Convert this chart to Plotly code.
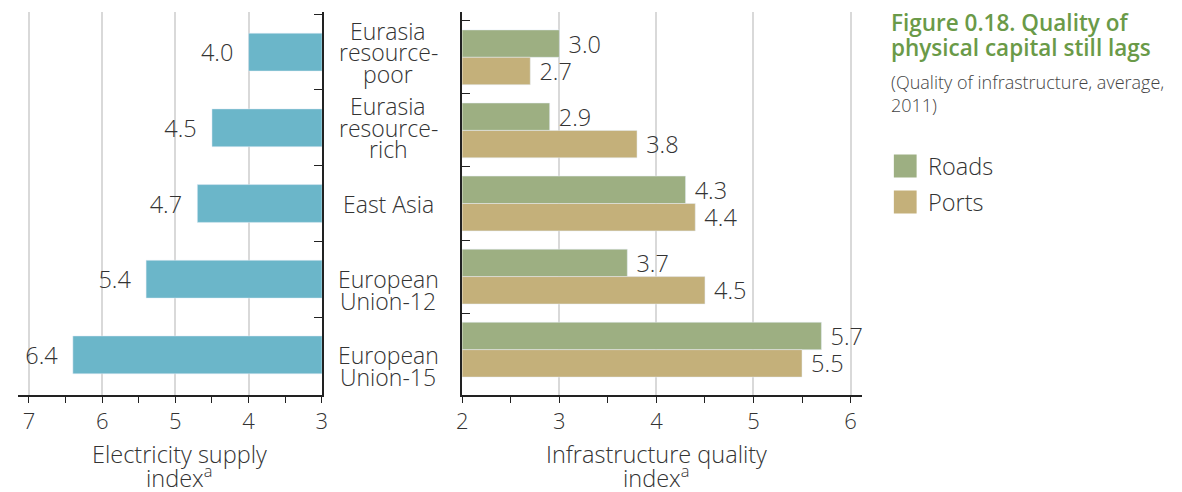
import plotly.graph_objects as go

# data
regions = ["Eurasia resource-poor", "Eurasia resource-rich", "East Asia",
           "European Union-12", "European Union-15"]
region_lines = [["Eurasia", "resource-", "poor"], ["Eurasia", "resource-", "rich"], ["East Asia"],
                ["European", "Union-12"], ["European", "Union-15"]]
electricity = [4.0, 4.5, 4.7, 5.4, 6.4]
roads = [3.0, 2.9, 4.3, 3.7, 5.7]
ports = [2.7, 3.8, 4.4, 4.5, 5.5]

# the page body has an 8px margin, so the figure is drawn 8px in from the corner
OFF = 8
W, H = 1182 - 2 * OFF, 492 - OFF
FONT = "Open Sans"
TXT = "#333333"
BLUE = "#6bb6c9"
GREEN = "#9daf82"
TAN = "#c4b07a"
TITLE_GREEN = "#6a9a48"
NBSP = "\u00a0"
LIGHT = 300


def px(x):
    return (x - OFF) / W


def py(y):
    return 1 - (y - OFF) / H


def tf(size, color=TXT, weight=LIGHT):
    return dict(size=size, color=color, family=FONT, weight=weight)


fig = go.Figure()

fig.add_trace(go.Bar(
    y=regions, x=electricity, orientation="h", marker_color=BLUE,
    width=0.5, text=[f"{v:.1f}" + NBSP * 2 for v in electricity], textposition="outside",
    textfont=tf(23.5), cliponaxis=False, constraintext="none",
    xaxis="x", yaxis="y", showlegend=False, hoverinfo="skip",
))
fig.add_trace(go.Bar(
    y=regions, x=roads, orientation="h", marker_color=GREEN, name="Roads",
    width=0.375, offset=-0.375, text=[NBSP + f"{v:.1f}" for v in roads], textposition="outside",
    textfont=tf(23.5), cliponaxis=False, constraintext="none",
    xaxis="x2", yaxis="y2", showlegend=False,
))
fig.add_trace(go.Bar(
    y=regions, x=ports, orientation="h", marker_color=TAN, name="Ports",
    width=0.375, offset=0, text=[NBSP + f"{v:.1f}" for v in ports], textposition="outside",
    textfont=tf(23.5), cliponaxis=False, constraintext="none",
    xaxis="x2", yaxis="y2", showlegend=False,
))

ydom = [py(395), py(12)]
xcommon = dict(
    showline=True, linecolor="#222", linewidth=1.5, ticks="outside", ticklen=6,
    tickcolor="#222", dtick=1, showgrid=True, gridcolor="#d9d9d9", gridwidth=1.5,
    zeroline=False, tickfont=tf(22),
    minor=dict(dtick=0.5, ticks="outside", ticklen=6, tickcolor="#222", showgrid=False),
)
ycommon = dict(domain=ydom, showticklabels=False, showline=True, linecolor="#222",
               linewidth=1.5, ticks="inside", ticklen=8, tickcolor="#222",
               tickson="boundaries")
fig.update_layout(
    width=W, height=H, barmode="overlay",
    margin=dict(l=0, r=0, t=0, b=0),
    paper_bgcolor="white", plot_bgcolor="white",
    font=tf(20),
    xaxis=dict(domain=[px(12), px(319)], range=[7.15, 3], tick0=3, anchor="y", **xcommon),
    yaxis=dict(range=[4.53, -0.53], side="right", anchor="x", **ycommon),
    xaxis2=dict(domain=[px(461), px(865)], range=[2, 6.12], tick0=2, anchor="y2", **xcommon),
    yaxis2=dict(range=[4.62, -0.62], side="left", anchor="x2", **ycommon),
)

# category labels between the panels, one annotation per line for tight leading
for r, lines in zip(regions, region_lines):
    n = len(lines)
    base = -11 if n == 2 else 0
    for i, line in enumerate(lines):
        fig.add_annotation(
            x=px(386), xref="paper", y=r, yref="y", text=line, showarrow=False,
            xanchor="center", yanchor="middle",
            font=tf(23), yshift=base + ((n - 1) / 2 - i) * 21.5,
        )

# axis titles
for xc, l1 in [(175, "Electricity supply"), (657, "Infrastructure quality")]:
    for yc, txt in [(454, l1), (476, "index<sup>a</sup>")]:
        fig.add_annotation(x=px(xc), y=py(yc), xref="paper", yref="paper", showarrow=False,
                           xanchor="center", yanchor="middle", text=txt, font=tf(23.5))

# title and subtitle
for yc, txt in [(22, "Figure 0.18. Quality of"), (47, "physical capital still lags")]:
    fig.add_annotation(x=px(892), y=py(yc), xref="paper", yref="paper", xanchor="left",
                       yanchor="middle", showarrow=False, text=txt,
                       font=tf(22.5, TITLE_GREEN, 600))
fig.add_annotation(x=px(892), y=py(68), xref="paper", yref="paper", xanchor="left", yanchor="top",
                   showarrow=False, align="left",
                   text="(Quality of infrastructure, average,<br>2011)",
                   font=tf(18, "#444"))

# legend
for name, col, yc in [("Roads", GREEN, 166), ("Ports", TAN, 202)]:
    fig.add_shape(type="rect", xref="paper", yref="paper", x0=px(897), x1=px(920),
                  y0=py(yc + 11.5), y1=py(yc - 11.5), fillcolor=col, line_width=0)
    fig.add_annotation(x=px(929), y=py(yc), xref="paper", yref="paper", xanchor="left",
                       yanchor="middle", showarrow=False, text=name, font=tf(23.5))

fig.write_html("out.html")
